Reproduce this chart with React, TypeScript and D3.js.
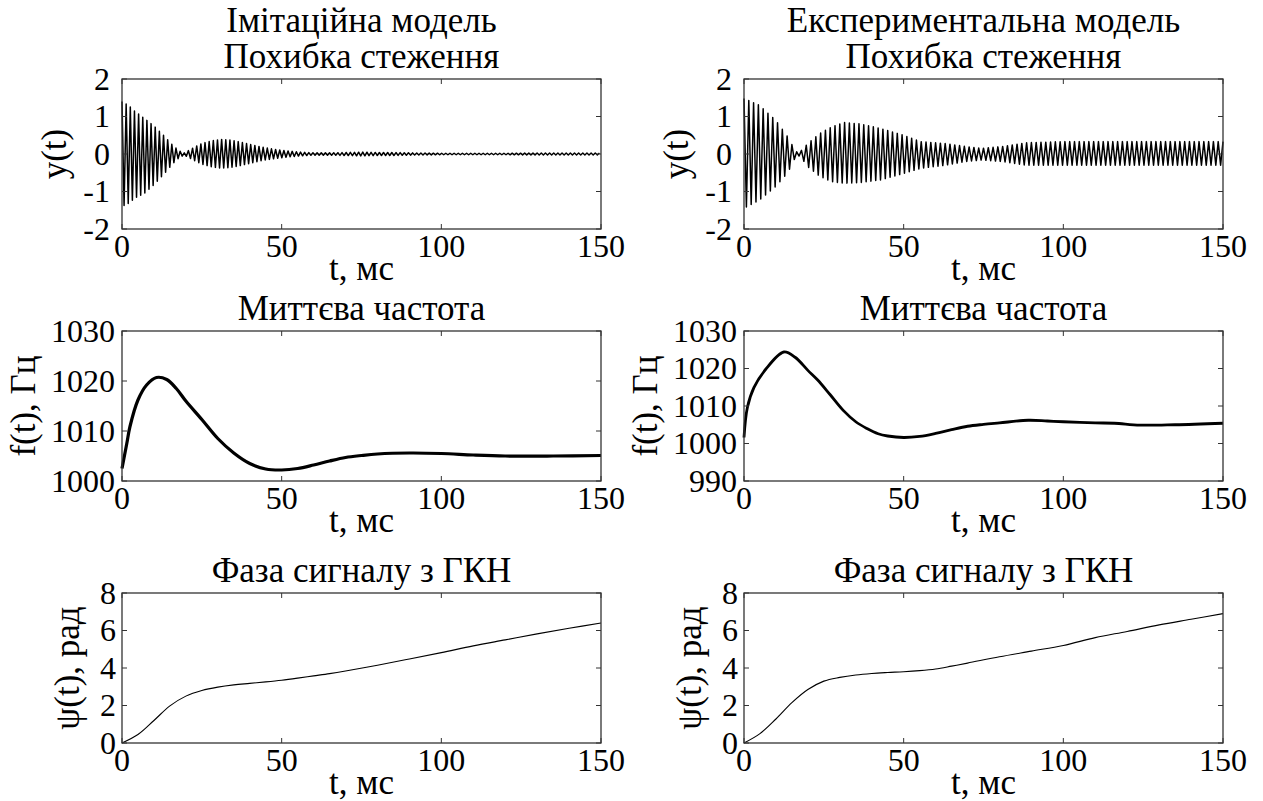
import React from 'react';
import * as d3 from 'd3';

// ---- data ----
const tTicks = [0, 50, 100, 150];
const errTicks = [-2, -1, 0, 1, 2];
const freqSimTicks = [1000, 1010, 1020, 1030];
const freqExpTicks = [990, 1000, 1010, 1020, 1030];
const phaseTicks = [0, 2, 4, 6, 8];

// tracking error: envelope of the oscillation (upper / lower peaks)
const errSimT = [0, 2, 4, 7, 10, 13, 16, 18, 19.5, 21, 23, 25, 28, 31, 34, 37, 40, 44, 48, 52, 56, 60, 65, 70, 75, 80, 85, 90, 100, 110, 120, 130, 140, 150];
const errSimUp = [1.4, 1.3, 1.14, 0.95, 0.75, 0.5, 0.22, 0.08, 0.03, 0.1, 0.2, 0.28, 0.35, 0.39, 0.37, 0.32, 0.26, 0.18, 0.12, 0.08, 0.05, 0.03, 0.03, 0.04, 0.05, 0.04, 0.04, 0.03, 0.02, 0.02, 0.02, 0.025, 0.025, 0.025];
const errSimLo = [-1.4, -1.32, -1.18, -1.05, -0.82, -0.55, -0.25, -0.09, -0.03, -0.1, -0.19, -0.27, -0.34, -0.38, -0.36, -0.31, -0.25, -0.17, -0.12, -0.08, -0.05, -0.03, -0.03, -0.04, -0.05, -0.04, -0.04, -0.03, -0.02, -0.02, -0.02, -0.025, -0.025, -0.025];

const errExpT = [0, 4.8, 9.9, 13.7, 16.2, 17.5, 20, 23.8, 27.6, 31.4, 36.5, 42.8, 50, 55.4, 63, 69.4, 74.4, 80.8, 88.4, 100, 120, 150];
const errExpUp = [1.48, 1.3, 0.9, 0.46, 0.06, 0.05, 0.28, 0.55, 0.73, 0.84, 0.8, 0.68, 0.5, 0.33, 0.28, 0.2, 0.15, 0.2, 0.3, 0.33, 0.33, 0.33];
const errExpLo = [-1.45, -1.23, -0.87, -0.5, -0.07, -0.05, -0.34, -0.6, -0.74, -0.78, -0.76, -0.69, -0.52, -0.38, -0.3, -0.2, -0.16, -0.2, -0.3, -0.3, -0.3, -0.3];

// instantaneous frequency, Hz
const freqSimT = [0, 1.5, 2.5, 5, 7.7, 10.8, 14, 17, 20, 25, 30, 35, 40, 45, 50, 55, 60, 65, 70, 75, 80, 90, 100, 110, 120, 135, 150];
const freqSimF = [1002.5, 1007.5, 1010.9, 1016.2, 1019.2, 1020.7, 1020.3, 1018.5, 1016, 1012.3, 1008.5, 1005.6, 1003.5, 1002.4, 1002.2, 1002.5, 1003.2, 1004, 1004.7, 1005.1, 1005.4, 1005.6, 1005.5, 1005.2, 1005, 1005, 1005.1];

const freqExpT = [0, 1.06, 3.1, 6.8, 12.5, 16, 20, 23, 27, 31, 35, 38.5, 42, 45, 50, 55, 60, 65, 70, 75, 80, 89, 95, 100, 110, 116, 124, 135, 150];
const freqExpF = [1001.6, 1009.6, 1014.9, 1019.8, 1024.4, 1023, 1019.5, 1017, 1013, 1008.9, 1005.8, 1004, 1002.6, 1002, 1001.6, 1001.9, 1002.7, 1003.7, 1004.6, 1005.1, 1005.5, 1006.2, 1006, 1005.8, 1005.5, 1005.4, 1004.9, 1005, 1005.4];

// VCO phase, rad
const phaseT = [0, 5, 10, 15, 20, 25, 30, 35, 40, 45, 50, 55, 60, 65, 70, 80, 90, 100, 110, 120, 130, 140, 150];
const phaseSim = [0, 0.45, 1.2, 1.98, 2.5, 2.8, 2.98, 3.1, 3.18, 3.26, 3.35, 3.46, 3.58, 3.7, 3.84, 4.15, 4.48, 4.82, 5.18, 5.5, 5.82, 6.12, 6.4];
const phaseExp = [0, 0.5, 1.28, 2.15, 2.85, 3.3, 3.5, 3.63, 3.71, 3.76, 3.8, 3.86, 3.95, 4.1, 4.26, 4.6, 4.9, 5.2, 5.62, 5.95, 6.3, 6.6, 6.9];

// ---- layout ----
const W = 1263, H = 801;
const FONT = "'Liberation Serif'";
const TICK_FS = 32;   // tick labels
const LAB_FS = 35;    // titles and axis labels
const BOX_W = 479, BOX_H = 150;
const colX = [122, 744];
const rowY = [79, 331, 593];
const AXIS = '#333';

type Pt = [number, number];

// oscillation strokes alternate between the upper and lower envelope
function zigzag(t: number[], up: number[], lo: number[], half: number): Pt[] {
  const u = d3.scaleLinear().domain(t).range(up);
  const l = d3.scaleLinear().domain(t).range(lo);
  const pts: Pt[] = [];
  for (let k = 0; k * half <= 150; k++) {
    const tt = k * half;
    pts.push([tt, k % 2 === 0 ? u(tt) : l(tt)]);
  }
  return pts;
}

const zip = (a: number[], b: number[]): Pt[] => a.map((v, i) => [v, b[i]]);

const panels = [
  { col: 0, row: 0, title: ['Імітаційна модель', 'Похибка стеження'], yLabel: 'y(t)', yDomain: [-2, 2], yTicks: errTicks, pad: 12, labX: 58,
    pts: zigzag(errSimT, errSimUp, errSimLo, 0.65), lw: 1.5, curve: d3.curveLinear },
  { col: 1, row: 0, title: ['Експериментальна модель', 'Похибка стеження'], yLabel: 'y(t)', yDomain: [-2, 2], yTicks: errTicks, pad: 12, labX: 58,
    pts: zigzag(errExpT, errExpUp, errExpLo, 0.75), lw: 1.5, curve: d3.curveLinear },
  { col: 0, row: 1, title: ['Миттєва частота'], yLabel: 'f(t), Гц', yDomain: [1000, 1030], yTicks: freqSimTicks, pad: 7, labX: 27,
    pts: zip(freqSimT, freqSimF), lw: 3.2, curve: d3.curveCatmullRom },
  { col: 1, row: 1, title: ['Миттєва частота'], yLabel: 'f(t), Гц', yDomain: [990, 1030], yTicks: freqExpTicks, pad: 7, labX: 27,
    pts: zip(freqExpT, freqExpF), lw: 2.8, curve: d3.curveCatmullRom },
  { col: 0, row: 2, title: ['Фаза сигналу з ГКН'], yLabel: 'ψ(t), рад', yDomain: [0, 8], yTicks: phaseTicks, pad: 6, labX: 71,
    pts: zip(phaseT, phaseSim), lw: 1.1, curve: d3.curveCatmullRom },
  { col: 1, row: 2, title: ['Фаза сигналу з ГКН'], yLabel: 'ψ(t), рад', yDomain: [0, 8], yTicks: phaseTicks, pad: 6, labX: 71,
    pts: zip(phaseT, phaseExp), lw: 1.1, curve: d3.curveCatmullRom },
];

// everything is placed in absolute page coordinates (no transformed groups)
function Panel({ p }: { p: any }) {
  const left = colX[p.col], top = rowY[p.row];
  const right = left + BOX_W, bottom = top + BOX_H;
  const x = d3.scaleLinear().domain([0, 150]).range([left, right]);
  const y = d3.scaleLinear().domain(p.yDomain).range([bottom, top]);
  const line = d3.line<Pt>().x(d => x(d[0])).y(d => y(d[1])).curve(p.curve);
  const n = p.title.length;
  const cx = (left + right) / 2;
  const labX = left + (p.labX - 122) + 8;
  const labY = (top + bottom) / 2;

  return (
    <>
      <path d={line(p.pts) || ''} fill="none" stroke="#000" strokeWidth={p.lw} strokeLinejoin="round" />

      {tTicks.map(t => (
        <React.Fragment key={'x' + t}>
          <line x1={x(t)} x2={x(t)} y1={bottom} y2={bottom - 5} stroke={AXIS} />
          <line x1={x(t)} x2={x(t)} y1={top} y2={top + 5} stroke={AXIS} />
          <text x={x(t)} y={bottom + 28} textAnchor="middle" fontFamily={FONT} fontSize={TICK_FS}>{String(t)}</text>
        </React.Fragment>
      ))}

      {p.yTicks.map((v: number) => (
        <React.Fragment key={'y' + v}>
          <line x1={left} x2={left + 5} y1={y(v)} y2={y(v)} stroke={AXIS} />
          <line x1={right} x2={right - 5} y1={y(v)} y2={y(v)} stroke={AXIS} />
          <text x={left - p.pad} y={y(v) + TICK_FS * 0.33} textAnchor="end" fontFamily={FONT} fontSize={TICK_FS}>{String(v)}</text>
        </React.Fragment>
      ))}

      <rect x={left} y={top} width={BOX_W} height={BOX_H} fill="none" stroke={AXIS} strokeWidth={1.3} />

      {p.title.map((s: string, i: number) => (
        <text key={s} x={cx} y={top - 11 - (n - 1 - i) * 36} textAnchor="middle" fontFamily={FONT} fontSize={LAB_FS}>{s}</text>
      ))}

      <text x={cx} y={bottom + 51} textAnchor="middle" fontFamily={FONT} fontSize={LAB_FS}>t, мс</text>

      <text transform={`rotate(-90 ${labX} ${labY})`} x={labX} y={labY} textAnchor="middle" fontFamily={FONT} fontSize={LAB_FS}>{p.yLabel}</text>
    </>
  );
}

export default function App() {
  return (
    <svg width={W} height={H} style={{ position: 'absolute', left: 0, top: 0 }}>
      {panels.map((p, i) => <Panel key={i} p={p} />)}
    </svg>
  );
}
